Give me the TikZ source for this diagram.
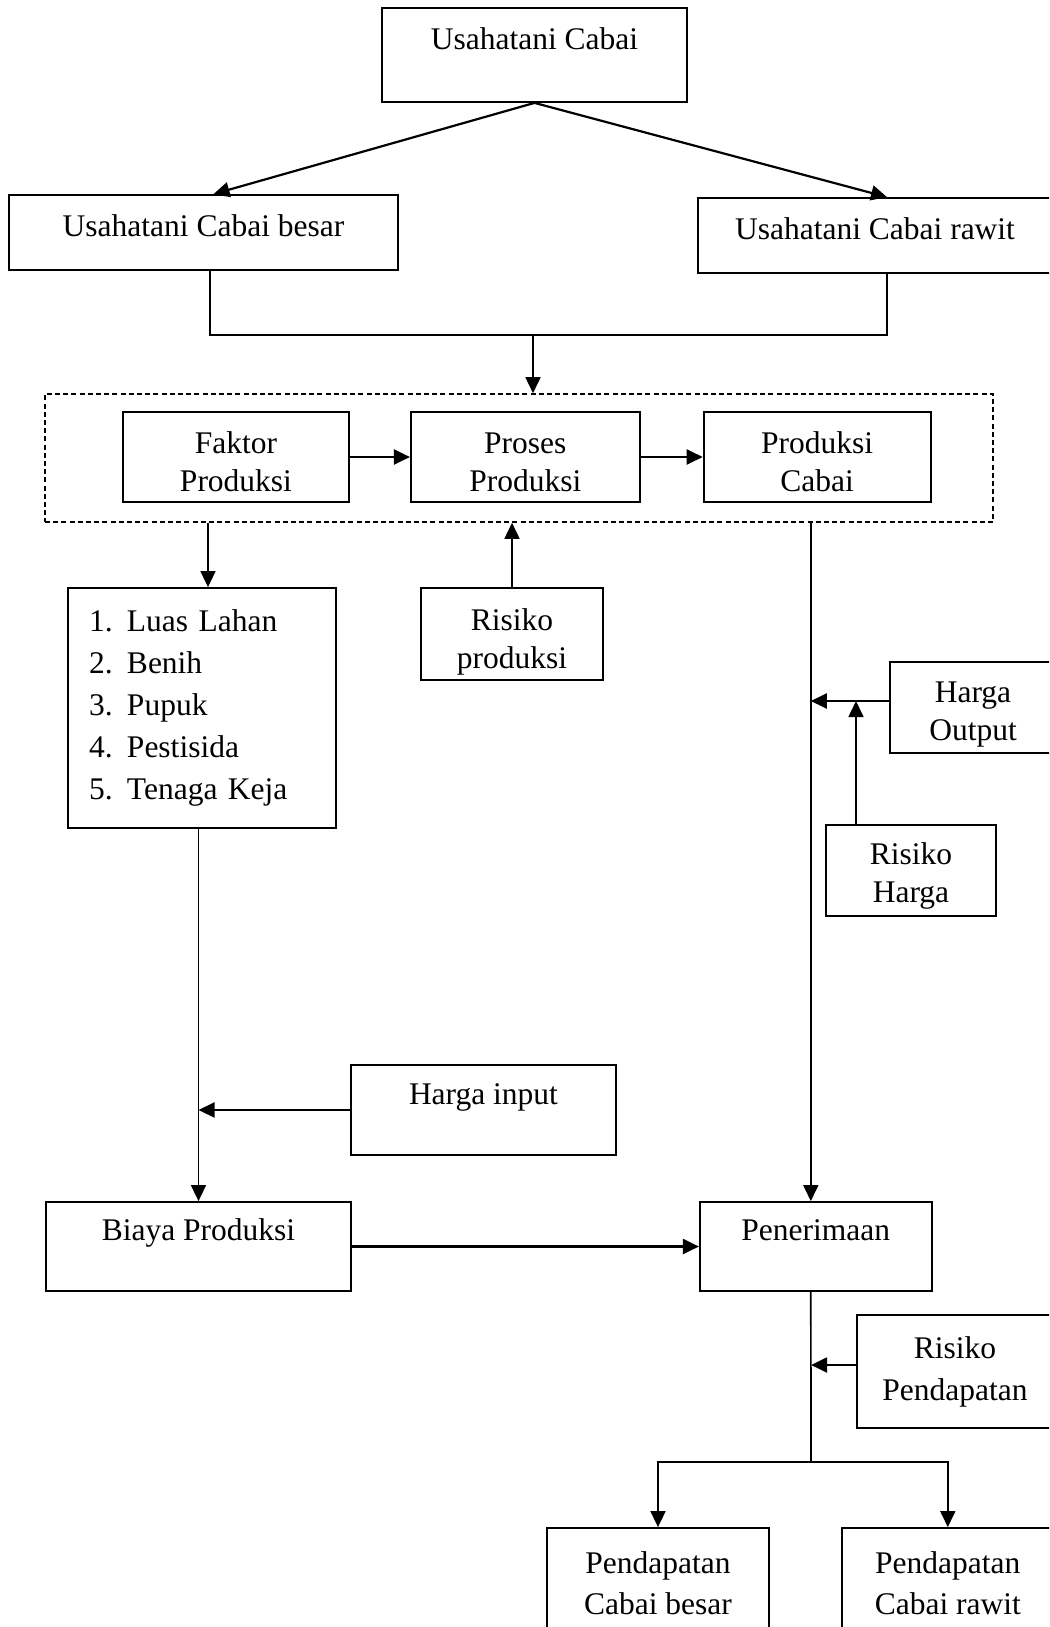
\documentclass[tikz,border=0pt]{standalone}
\usepackage{fontspec}
\setmainfont{Liberation Serif}
\usepackage{tikz}
\usetikzlibrary{arrows.meta,positioning}
\newcommand\toppad[1]{\rule{0pt}{#1}}
\tikzset{>={Triangle[length=8pt,width=7.5pt]},
  box/.style={draw,line width=0.9pt,inner sep=0pt,align=center,
    font=\fontsize{15.75}{19}\selectfont},
  dashbox/.style={draw,line width=0.8pt,dash pattern=on 2.5pt off 1.6pt},
  wire/.style={line width=0.85pt},
  heavy/.style={line width=1.1pt}}

\begin{document}
\begin{tikzpicture}[x=0.5pt,y=-0.5pt]
\useasboundingbox (0,0) rectangle (1049,1627);
\clip (0,0) rectangle (1049,1627);
           \node[box,minimum width=152.5pt,minimum height=47pt,text height=11pt,text depth=16pt] (u_0) at (534.5,55) {Usahatani Cabai};
           \node[box,minimum width=194.5pt,minimum height=37.5pt,text height=11pt,text depth=7.5pt] (u_1) at (203.5,232.5) {Usahatani Cabai besar};
           \node[box,minimum width=177pt,minimum height=37.5pt,text height=11pt,text depth=7.5pt] (u_2) at (875,235.5) {Usahatani Cabai rawit};
           \node[dashbox,minimum width=474pt,minimum height=64pt] (g) at (519,458) {};
           \node[box,minimum width=113pt,minimum height=45pt] (f_1) at (236,457) {\toppad{16pt}Faktor\\Produksi};
           \node[box,minimum width=114.5pt,minimum height=45pt] (f_2) [right=30pt of f_1] {\toppad{16pt}Proses\\Produksi};
           \node[box,minimum width=113.5pt,minimum height=45pt] (f_3) [right=31pt of f_2] {\toppad{16pt}Produksi\\Cabai};
           \node[box,text width=113pt,inner xsep=10.5pt,align=left,minimum height=120pt,font=\fontsize{15.75}{21}\selectfont] (l) at (202,708)
             {\makebox[19pt][l]{1.}Luas Lahan\\\makebox[19pt][l]{2.}Benih\\\makebox[19pt][l]{3.}Pupuk\\\makebox[19pt][l]{4.}Pestisida\\\makebox[19pt][l]{5.}Tenaga Keja};
           \node[box,minimum width=91pt,minimum height=46pt] (r_1) at (512,634) {\toppad{18.5pt}Risiko\\produksi};
           \node[box,minimum width=83pt,minimum height=45.5pt] (h_1) at (973,707.5) {\toppad{17pt}Harga\\Output};
           \node[box,minimum width=85pt,minimum height=45.5pt] (r_2) at (911,870.5) {\toppad{16.5pt}Risiko\\Harga};
           \node[box,minimum width=132.5pt,minimum height=45pt,text height=11pt,text depth=17pt] (h_2) at (483.5,1110) {Harga input};
           \node[box,minimum width=152.5pt,minimum height=44.5pt,text height=11pt,text depth=17.5pt] (b) at (198.5,1246.5) {Biaya Produksi};
           \node[box,minimum width=116pt,minimum height=44.5pt,text height=11pt,text depth=17.5pt] (t) [right=173.5pt of b] {Penerimaan};
           \node[box,minimum width=98pt,minimum height=56.5pt,font=\fontsize{15.75}{21}\selectfont] (r_3) at (955,1371.5) {Risiko\\Pendapatan};
           \node[box,minimum width=111pt,minimum height=55pt,font=\fontsize{15.75}{20.5}\selectfont] (p_1) at (658,1583) {Pendapatan\\Cabai besar};
           \node[box,minimum width=106pt,minimum height=55pt,font=\fontsize{15.75}{20.5}\selectfont] (p_2) [right=35.5pt of p_1] {Pendapatan\\Cabai rawit};
           \coordinate (j) at (533,335);
           \coordinate (lx) at ([xshift=3pt]l.north);
           \coordinate (rx) at ([xshift=-2.5pt]t.north);
           \coordinate (hin) at ([yshift=3.25pt]h_1.west);
           \coordinate (s) at (811,1462);
            \path[->,heavy]
            (u_0.south) edge ([xshift=5pt]u_1.north)
                        edge ([xshift=6pt]u_2.north)
            (f_1) edge (f_2)
            (f_2) edge (f_3)
            (hin) edge (hin -| rx)
            (h_2.west) edge (h_2.west -| b.north)
            (b) edge (t)
            ([yshift=3.25pt]r_3.west) edge ++(-22.5pt,0);
            \draw[wire] ([xshift=3.25pt]u_1.south) |- (j) -| ([xshift=6pt]u_2.south);
            \path[->,wire]
            (j) edge (j |- g.north)
            (g.south -| lx) edge (lx)
            (r_1.north) edge (r_1.north |- g.south)
            (rx |- g.south) edge (rx)
            ([xshift=-27.5pt]r_2.north) edge ([xshift=-27.5pt]r_2.north |- hin)
            (l.south -| b.north) edge (b.north);
            \draw[wire] ([xshift=-2.5pt]t.south) -- (s);
            \draw[->,wire] (s) -| (p_1.north);
            \draw[->,wire] (s) -| (p_2.north);
        \end{tikzpicture}
\end{document}
